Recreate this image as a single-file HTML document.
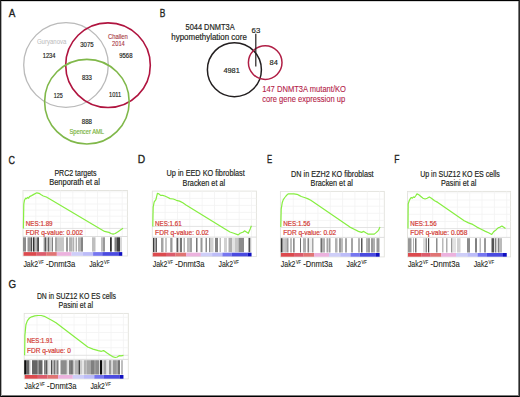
<!DOCTYPE html>
<html><head><meta charset="utf-8"><style>
html,body{margin:0;padding:0;background:#fff;width:520px;height:397px;overflow:hidden;}
svg{display:block;}
text{font-family:"Liberation Sans", sans-serif;}
</style></head><body>
<svg width="520" height="397" viewBox="0 0 520 397">
<rect x="0" y="0" width="520" height="397" fill="#fff"/>
<text x="8.70" y="17.30" font-size="11.60" fill="#231f20" stroke="#231f20" stroke-width="0.35" textLength="6.60" lengthAdjust="spacingAndGlyphs">A</text>
<circle cx="66" cy="65" r="42.3" fill="none" stroke="#bababa" stroke-width="1.3"/>
<circle cx="108" cy="65.2" r="42.3" fill="none" stroke="#b0143f" stroke-width="1.6"/>
<circle cx="86.9" cy="101.7" r="42.3" fill="none" stroke="#80b84a" stroke-width="1.6"/>
<text x="36.90" y="44.10" font-size="6.90" fill="#bdbec0" stroke="#bdbec0" stroke-width="0.05" textLength="29.50" lengthAdjust="spacingAndGlyphs">Guryanova</text>
<text x="42.70" y="58.00" font-size="7.00" fill="#231f20" stroke="#231f20" stroke-width="0.18" textLength="12.80" lengthAdjust="spacingAndGlyphs">1234</text>
<text x="80.20" y="47.00" font-size="7.00" fill="#231f20" stroke="#231f20" stroke-width="0.18" textLength="13.40" lengthAdjust="spacingAndGlyphs">3075</text>
<text x="107.90" y="38.50" font-size="6.70" fill="#a83844" stroke="#a83844" stroke-width="0.12" textLength="20.00" lengthAdjust="spacingAndGlyphs">Challen</text>
<text x="112.00" y="45.80" font-size="6.70" fill="#a83844" stroke="#a83844" stroke-width="0.12" textLength="12.80" lengthAdjust="spacingAndGlyphs">2014</text>
<text x="119.20" y="58.00" font-size="7.00" fill="#231f20" stroke="#231f20" stroke-width="0.18" textLength="13.30" lengthAdjust="spacingAndGlyphs">9568</text>
<text x="81.90" y="80.00" font-size="7.00" fill="#231f20" stroke="#231f20" stroke-width="0.18" textLength="10.00" lengthAdjust="spacingAndGlyphs">833</text>
<text x="53.75" y="97.80" font-size="7.00" fill="#231f20" stroke="#231f20" stroke-width="0.18" textLength="9.00" lengthAdjust="spacingAndGlyphs">125</text>
<text x="109.00" y="97.30" font-size="7.00" fill="#231f20" stroke="#231f20" stroke-width="0.18" textLength="12.30" lengthAdjust="spacingAndGlyphs">1011</text>
<text x="81.75" y="123.50" font-size="7.00" fill="#231f20" stroke="#231f20" stroke-width="0.18" textLength="10.25" lengthAdjust="spacingAndGlyphs">888</text>
<text x="69.40" y="133.80" font-size="6.60" fill="#7ab440" stroke="#7ab440" stroke-width="0.18" textLength="34.60" lengthAdjust="spacingAndGlyphs">Spencer AML</text>
<text x="159.80" y="17.10" font-size="11.60" fill="#231f20" stroke="#231f20" stroke-width="0.35" textLength="5.60" lengthAdjust="spacingAndGlyphs">B</text>
<text x="185.50" y="30.20" font-size="8.20" fill="#231f20" stroke="#231f20" stroke-width="0.18" textLength="49.10" lengthAdjust="spacingAndGlyphs">5044 DNMT3A</text>
<text x="171.30" y="39.70" font-size="8.20" fill="#231f20" stroke="#231f20" stroke-width="0.18" textLength="75.50" lengthAdjust="spacingAndGlyphs">hypomethylation core</text>
<circle cx="234.4" cy="69.7" r="27.0" fill="none" stroke="#231f20" stroke-width="1.5"/>
<circle cx="265.2" cy="62.6" r="16.8" fill="none" stroke="#b01e45" stroke-width="1.5"/>
<line x1="255.8" y1="33.8" x2="255.8" y2="66.4" stroke="#231f20" stroke-width="1.2"/>
<text x="251.60" y="32.80" font-size="8.10" fill="#231f20" stroke="#231f20" stroke-width="0.18" textLength="8.70" lengthAdjust="spacingAndGlyphs">63</text>
<text x="223.40" y="73.40" font-size="8.10" fill="#231f20" stroke="#231f20" stroke-width="0.18" textLength="16.40" lengthAdjust="spacingAndGlyphs">4981</text>
<text x="269.50" y="65.20" font-size="8.10" fill="#231f20" stroke="#231f20" stroke-width="0.18" textLength="8.30" lengthAdjust="spacingAndGlyphs">84</text>
<text x="262.20" y="91.70" font-size="8.20" fill="#b41c48" stroke="#b41c48" stroke-width="0.1" textLength="83.80" lengthAdjust="spacingAndGlyphs">147 DNMT3A mutant/KO</text>
<text x="262.20" y="101.90" font-size="8.20" fill="#b41c48" stroke="#b41c48" stroke-width="0.1" textLength="83.00" lengthAdjust="spacingAndGlyphs">core gene expression up</text>
<rect x="23" y="190.5" width="104.40" height="65.50" fill="#fff" stroke="#e2e2dc" stroke-width="0.9"/>
<line x1="35.84" y1="190.5" x2="35.84" y2="236.5" stroke="#f2f2f2" stroke-width="0.8"/>
<line x1="48.17" y1="190.5" x2="48.17" y2="236.5" stroke="#f2f2f2" stroke-width="0.8"/>
<line x1="60.51" y1="190.5" x2="60.51" y2="236.5" stroke="#f2f2f2" stroke-width="0.8"/>
<line x1="72.85" y1="190.5" x2="72.85" y2="236.5" stroke="#f2f2f2" stroke-width="0.8"/>
<line x1="85.19" y1="190.5" x2="85.19" y2="236.5" stroke="#f2f2f2" stroke-width="0.8"/>
<line x1="97.53" y1="190.5" x2="97.53" y2="236.5" stroke="#f2f2f2" stroke-width="0.8"/>
<line x1="109.86" y1="190.5" x2="109.86" y2="236.5" stroke="#f2f2f2" stroke-width="0.8"/>
<line x1="122.20" y1="190.5" x2="122.20" y2="236.5" stroke="#f2f2f2" stroke-width="0.8"/>
<line x1="23" y1="222.30" x2="127.4" y2="222.30" stroke="#f2f2f2" stroke-width="0.8"/>
<line x1="23" y1="216.20" x2="127.4" y2="216.20" stroke="#f2f2f2" stroke-width="0.8"/>
<line x1="23" y1="210.10" x2="127.4" y2="210.10" stroke="#f2f2f2" stroke-width="0.8"/>
<line x1="23" y1="204.00" x2="127.4" y2="204.00" stroke="#f2f2f2" stroke-width="0.8"/>
<line x1="23" y1="197.90" x2="127.4" y2="197.90" stroke="#f2f2f2" stroke-width="0.8"/>
<line x1="23" y1="191.80" x2="127.4" y2="191.80" stroke="#f2f2f2" stroke-width="0.8"/>
<line x1="23" y1="228.4" x2="127.4" y2="228.4" stroke="#dcdcdc" stroke-width="0.8"/>
<line x1="23" y1="236.5" x2="127.4" y2="236.5" stroke="#d6d6d6" stroke-width="0.8"/>
<rect x="23" y="237.3" width="3.00" height="14.3" fill="rgb(140,140,140)"/>
<rect x="27.5" y="237.3" width="3.50" height="14.3" fill="rgb(153,153,153)"/>
<rect x="31" y="237.3" width="1.00" height="14.3" fill="rgb(77,77,77)"/>
<rect x="32" y="237.3" width="0.80" height="14.3" fill="rgb(217,217,217)"/>
<rect x="33" y="237.3" width="1.50" height="14.3" fill="rgb(51,51,51)"/>
<rect x="34.5" y="237.3" width="1.00" height="14.3" fill="rgb(128,128,128)"/>
<rect x="36.5" y="237.3" width="1.50" height="14.3" fill="rgb(102,102,102)"/>
<rect x="38" y="237.3" width="1.00" height="14.3" fill="rgb(77,77,77)"/>
<rect x="43.5" y="237.3" width="1.00" height="14.3" fill="rgb(178,178,178)"/>
<rect x="44.5" y="237.3" width="1.50" height="14.3" fill="rgb(89,89,89)"/>
<rect x="46" y="237.3" width="2.00" height="14.3" fill="rgb(191,191,191)"/>
<rect x="48" y="237.3" width="1.50" height="14.3" fill="rgb(102,102,102)"/>
<rect x="49.5" y="237.3" width="2.50" height="14.3" fill="rgb(204,204,204)"/>
<rect x="52" y="237.3" width="1.00" height="14.3" fill="rgb(128,128,128)"/>
<rect x="55" y="237.3" width="2.00" height="14.3" fill="rgb(166,166,166)"/>
<rect x="57" y="237.3" width="7.00" height="14.3" fill="rgb(199,199,199)"/>
<rect x="66" y="237.3" width="2.00" height="14.3" fill="rgb(153,153,153)"/>
<rect x="69" y="237.3" width="3.00" height="14.3" fill="rgb(178,178,178)"/>
<rect x="72" y="237.3" width="1.00" height="14.3" fill="rgb(204,204,204)"/>
<rect x="73" y="237.3" width="0.80" height="14.3" fill="rgb(140,140,140)"/>
<rect x="73.8" y="237.3" width="2.00" height="14.3" fill="rgb(235,235,235)"/>
<rect x="75.8" y="237.3" width="1.00" height="14.3" fill="rgb(153,153,153)"/>
<rect x="78" y="237.3" width="3.00" height="14.3" fill="rgb(178,178,178)"/>
<rect x="81" y="237.3" width="2.00" height="14.3" fill="rgb(133,133,133)"/>
<rect x="92" y="237.3" width="3.50" height="14.3" fill="rgb(191,191,191)"/>
<rect x="101" y="237.3" width="2.00" height="14.3" fill="rgb(191,191,191)"/>
<rect x="103" y="237.3" width="2.00" height="14.3" fill="rgb(153,153,153)"/>
<rect x="110" y="237.3" width="1.80" height="14.3" fill="rgb(51,51,51)"/>
<rect x="114.5" y="237.3" width="2.50" height="14.3" fill="rgb(128,128,128)"/>
<rect x="117" y="237.3" width="3.00" height="14.3" fill="rgb(64,64,64)"/>
<rect x="120" y="237.3" width="2.00" height="14.3" fill="rgb(217,217,217)"/>
<rect x="23.50" y="252.1" width="13.21" height="3.7" fill="#dc4a4e"/>
<rect x="36.66" y="252.1" width="9.62" height="3.7" fill="#dc5c6c"/>
<rect x="46.23" y="252.1" width="10.62" height="3.7" fill="#e07474"/>
<rect x="56.80" y="252.1" width="14.81" height="3.7" fill="#ecb2de"/>
<rect x="71.55" y="252.1" width="11.32" height="3.7" fill="#cecef8"/>
<rect x="82.82" y="252.1" width="10.32" height="3.7" fill="#bcbcf8"/>
<rect x="93.09" y="252.1" width="9.22" height="3.7" fill="#7676f0"/>
<rect x="102.26" y="252.1" width="16.20" height="3.7" fill="#4a4ae0"/>
<rect x="118.41" y="252.1" width="3.84" height="3.7" fill="#1010c0"/>
<polyline points="23.4,228.4 23.6,215.0 23.8,204.0 24.5,200.2 25.6,198.2 26.6,198.6 27.6,197.4 28.6,198.2 29.5,196.6 31.6,195.6 33.8,194.4 36.9,192.8 39.0,193.3 41.2,194.8 43.3,196.0 46.4,197.0 104.6,231.4 108.9,232.4 111.0,233.5 113.1,234.1 115.2,233.5 118.4,231.4 121.5,229.3 123.0,228.2" fill="none" stroke="#86ee40" stroke-width="1.2" stroke-linejoin="round"/>
<text x="25.80" y="225.50" font-size="6.90" fill="#d23a33" stroke="#d23a33" stroke-width="0.2" textLength="26.80" lengthAdjust="spacingAndGlyphs">NES:1.89</text>
<text x="25.80" y="234.50" font-size="6.90" fill="#d23a33" stroke="#d23a33" stroke-width="0.2" textLength="57.20" lengthAdjust="spacingAndGlyphs">FDR q-value: 0.002</text>
<text x="54.40" y="175.60" font-size="8.70" fill="#231f20" stroke="#231f20" stroke-width="0.18" textLength="42.10" lengthAdjust="spacingAndGlyphs">PRC2 targets</text>
<text x="49.20" y="185.30" font-size="8.70" fill="#231f20" stroke="#231f20" stroke-width="0.18" textLength="50.70" lengthAdjust="spacingAndGlyphs">Benporath et al</text>
<text x="23.40" y="266.80" font-size="8.40" fill="#231f20" stroke="#231f20" stroke-width="0.1" textLength="14.70" lengthAdjust="spacingAndGlyphs">Jak2</text>
<text x="38.50" y="263.50" font-size="4.80" fill="#231f20" stroke="#231f20" stroke-width="0.1" textLength="5.10" lengthAdjust="spacingAndGlyphs">VF</text>
<text x="45.90" y="266.80" font-size="8.40" fill="#231f20" stroke="#231f20" stroke-width="0.1" textLength="29.30" lengthAdjust="spacingAndGlyphs">-Dnmt3a</text>
<text x="89.20" y="266.80" font-size="8.40" fill="#231f20" stroke="#231f20" stroke-width="0.1" textLength="14.50" lengthAdjust="spacingAndGlyphs">Jak2</text>
<text x="104.10" y="263.50" font-size="4.80" fill="#231f20" stroke="#231f20" stroke-width="0.1" textLength="5.50" lengthAdjust="spacingAndGlyphs">VF</text>
<text x="8.50" y="163.50" font-size="11.60" fill="#231f20" stroke="#231f20" stroke-width="0.35" textLength="6.40" lengthAdjust="spacingAndGlyphs">C</text>
<rect x="152.3" y="191.1" width="104.10" height="65.50" fill="#fff" stroke="#e2e2dc" stroke-width="0.9"/>
<line x1="165.14" y1="191.1" x2="165.14" y2="237.1" stroke="#f2f2f2" stroke-width="0.8"/>
<line x1="177.48" y1="191.1" x2="177.48" y2="237.1" stroke="#f2f2f2" stroke-width="0.8"/>
<line x1="189.81" y1="191.1" x2="189.81" y2="237.1" stroke="#f2f2f2" stroke-width="0.8"/>
<line x1="202.15" y1="191.1" x2="202.15" y2="237.1" stroke="#f2f2f2" stroke-width="0.8"/>
<line x1="214.49" y1="191.1" x2="214.49" y2="237.1" stroke="#f2f2f2" stroke-width="0.8"/>
<line x1="226.83" y1="191.1" x2="226.83" y2="237.1" stroke="#f2f2f2" stroke-width="0.8"/>
<line x1="239.16" y1="191.1" x2="239.16" y2="237.1" stroke="#f2f2f2" stroke-width="0.8"/>
<line x1="251.50" y1="191.1" x2="251.50" y2="237.1" stroke="#f2f2f2" stroke-width="0.8"/>
<line x1="152.3" y1="219.40" x2="256.4" y2="219.40" stroke="#f2f2f2" stroke-width="0.8"/>
<line x1="152.3" y1="212.40" x2="256.4" y2="212.40" stroke="#f2f2f2" stroke-width="0.8"/>
<line x1="152.3" y1="205.40" x2="256.4" y2="205.40" stroke="#f2f2f2" stroke-width="0.8"/>
<line x1="152.3" y1="198.40" x2="256.4" y2="198.40" stroke="#f2f2f2" stroke-width="0.8"/>
<line x1="152.3" y1="226.4" x2="256.4" y2="226.4" stroke="#dcdcdc" stroke-width="0.8"/>
<line x1="152.3" y1="237.1" x2="256.4" y2="237.1" stroke="#d6d6d6" stroke-width="0.8"/>
<rect x="153" y="237.89999999999998" width="1.50" height="14.3" fill="rgb(60,60,60)"/>
<rect x="154.5" y="237.89999999999998" width="1.30" height="14.3" fill="rgb(163,163,163)"/>
<rect x="155.8" y="237.89999999999998" width="1.20" height="14.3" fill="rgb(94,94,94)"/>
<rect x="161" y="237.89999999999998" width="2.50" height="14.3" fill="rgb(163,163,163)"/>
<rect x="165.5" y="237.89999999999998" width="1.00" height="14.3" fill="rgb(140,140,140)"/>
<rect x="170" y="237.89999999999998" width="1.00" height="14.3" fill="rgb(175,175,175)"/>
<rect x="171" y="237.89999999999998" width="1.50" height="14.3" fill="rgb(152,152,152)"/>
<rect x="176.5" y="237.89999999999998" width="2.00" height="14.3" fill="rgb(94,94,94)"/>
<rect x="178.5" y="237.89999999999998" width="1.50" height="14.3" fill="rgb(232,232,232)"/>
<rect x="180" y="237.89999999999998" width="2.00" height="14.3" fill="rgb(117,117,117)"/>
<rect x="183.5" y="237.89999999999998" width="1.50" height="14.3" fill="rgb(175,175,175)"/>
<rect x="187" y="237.89999999999998" width="2.50" height="14.3" fill="rgb(186,186,186)"/>
<rect x="189.5" y="237.89999999999998" width="2.50" height="14.3" fill="rgb(163,163,163)"/>
<rect x="196" y="237.89999999999998" width="1.50" height="14.3" fill="rgb(117,117,117)"/>
<rect x="200.5" y="237.89999999999998" width="2.00" height="14.3" fill="rgb(152,152,152)"/>
<rect x="205.5" y="237.89999999999998" width="1.50" height="14.3" fill="rgb(140,140,140)"/>
<rect x="209" y="237.89999999999998" width="1.50" height="14.3" fill="rgb(140,140,140)"/>
<rect x="210.5" y="237.89999999999998" width="3.00" height="14.3" fill="rgb(209,209,209)"/>
<rect x="215" y="237.89999999999998" width="3.00" height="14.3" fill="rgb(129,129,129)"/>
<rect x="219.5" y="237.89999999999998" width="1.50" height="14.3" fill="rgb(186,186,186)"/>
<rect x="224" y="237.89999999999998" width="3.00" height="14.3" fill="rgb(209,209,209)"/>
<rect x="228.5" y="237.89999999999998" width="3.50" height="14.3" fill="rgb(175,175,175)"/>
<rect x="232" y="237.89999999999998" width="3.00" height="14.3" fill="rgb(227,227,227)"/>
<rect x="235" y="237.89999999999998" width="3.50" height="14.3" fill="rgb(198,198,198)"/>
<rect x="238.5" y="237.89999999999998" width="5.50" height="14.3" fill="rgb(140,140,140)"/>
<rect x="248.5" y="237.89999999999998" width="2.00" height="14.3" fill="rgb(83,83,83)"/>
<rect x="250.5" y="237.89999999999998" width="1.00" height="14.3" fill="rgb(221,221,221)"/>
<rect x="152.80" y="252.7" width="13.21" height="3.7" fill="#dc4a4e"/>
<rect x="165.96" y="252.7" width="9.62" height="3.7" fill="#dc5c6c"/>
<rect x="175.53" y="252.7" width="10.62" height="3.7" fill="#e07474"/>
<rect x="186.10" y="252.7" width="14.81" height="3.7" fill="#ecb2de"/>
<rect x="200.85" y="252.7" width="11.32" height="3.7" fill="#cecef8"/>
<rect x="212.12" y="252.7" width="10.32" height="3.7" fill="#bcbcf8"/>
<rect x="222.39" y="252.7" width="9.22" height="3.7" fill="#7676f0"/>
<rect x="231.56" y="252.7" width="16.20" height="3.7" fill="#4a4ae0"/>
<rect x="247.71" y="252.7" width="3.84" height="3.7" fill="#1010c0"/>
<polyline points="152.8,226.4 153.0,215.0 153.2,207.0 154.2,201.8 155.9,199.6 157.4,193.3 158.9,193.9 160.6,195.4 162.7,195.4 164.8,196.0 168.0,197.5 170.1,198.6 173.3,199.0 176.4,200.3 179.6,201.1 182.8,202.8 186.0,204.9 225.0,228.9 230.0,232.0 233.8,233.3 238.2,234.9 240.1,233.3 243.3,232.0 244.5,230.8 246.4,232.0 248.3,233.3 250.2,228.9 251.4,225.7" fill="none" stroke="#86ee40" stroke-width="1.2" stroke-linejoin="round"/>
<text x="155.10" y="225.70" font-size="6.90" fill="#d23a33" stroke="#d23a33" stroke-width="0.2" textLength="26.60" lengthAdjust="spacingAndGlyphs">NES:1.61</text>
<text x="155.10" y="234.90" font-size="6.90" fill="#d23a33" stroke="#d23a33" stroke-width="0.2" textLength="53.70" lengthAdjust="spacingAndGlyphs">FDR q-value: 0.02</text>
<text x="166.60" y="176.20" font-size="8.70" fill="#231f20" stroke="#231f20" stroke-width="0.18" textLength="78.20" lengthAdjust="spacingAndGlyphs">Up in EED KO fibroblast</text>
<text x="182.50" y="185.90" font-size="8.70" fill="#231f20" stroke="#231f20" stroke-width="0.18" textLength="42.70" lengthAdjust="spacingAndGlyphs">Bracken et al</text>
<text x="152.70" y="266.80" font-size="8.40" fill="#231f20" stroke="#231f20" stroke-width="0.1" textLength="14.70" lengthAdjust="spacingAndGlyphs">Jak2</text>
<text x="167.80" y="263.50" font-size="4.80" fill="#231f20" stroke="#231f20" stroke-width="0.1" textLength="5.10" lengthAdjust="spacingAndGlyphs">VF</text>
<text x="175.20" y="266.80" font-size="8.40" fill="#231f20" stroke="#231f20" stroke-width="0.1" textLength="29.30" lengthAdjust="spacingAndGlyphs">-Dnmt3a</text>
<text x="218.50" y="266.80" font-size="8.40" fill="#231f20" stroke="#231f20" stroke-width="0.1" textLength="14.50" lengthAdjust="spacingAndGlyphs">Jak2</text>
<text x="233.40" y="263.50" font-size="4.80" fill="#231f20" stroke="#231f20" stroke-width="0.1" textLength="5.50" lengthAdjust="spacingAndGlyphs">VF</text>
<text x="137.70" y="163.30" font-size="11.60" fill="#231f20" stroke="#231f20" stroke-width="0.35" textLength="7.40" lengthAdjust="spacingAndGlyphs">D</text>
<rect x="280.4" y="191.4" width="103.90" height="65.50" fill="#fff" stroke="#e2e2dc" stroke-width="0.9"/>
<line x1="293.24" y1="191.4" x2="293.24" y2="237.4" stroke="#f2f2f2" stroke-width="0.8"/>
<line x1="305.57" y1="191.4" x2="305.57" y2="237.4" stroke="#f2f2f2" stroke-width="0.8"/>
<line x1="317.91" y1="191.4" x2="317.91" y2="237.4" stroke="#f2f2f2" stroke-width="0.8"/>
<line x1="330.25" y1="191.4" x2="330.25" y2="237.4" stroke="#f2f2f2" stroke-width="0.8"/>
<line x1="342.59" y1="191.4" x2="342.59" y2="237.4" stroke="#f2f2f2" stroke-width="0.8"/>
<line x1="354.92" y1="191.4" x2="354.92" y2="237.4" stroke="#f2f2f2" stroke-width="0.8"/>
<line x1="367.26" y1="191.4" x2="367.26" y2="237.4" stroke="#f2f2f2" stroke-width="0.8"/>
<line x1="379.60" y1="191.4" x2="379.60" y2="237.4" stroke="#f2f2f2" stroke-width="0.8"/>
<line x1="280.4" y1="220.40" x2="384.3" y2="220.40" stroke="#f2f2f2" stroke-width="0.8"/>
<line x1="280.4" y1="213.30" x2="384.3" y2="213.30" stroke="#f2f2f2" stroke-width="0.8"/>
<line x1="280.4" y1="206.20" x2="384.3" y2="206.20" stroke="#f2f2f2" stroke-width="0.8"/>
<line x1="280.4" y1="199.10" x2="384.3" y2="199.10" stroke="#f2f2f2" stroke-width="0.8"/>
<line x1="280.4" y1="227.5" x2="384.3" y2="227.5" stroke="#dcdcdc" stroke-width="0.8"/>
<line x1="280.4" y1="237.4" x2="384.3" y2="237.4" stroke="#d6d6d6" stroke-width="0.8"/>
<rect x="280.8" y="238.2" width="1.20" height="14.3" fill="rgb(53,53,53)"/>
<rect x="282" y="238.2" width="1.50" height="14.3" fill="rgb(143,143,143)"/>
<rect x="284.5" y="238.2" width="1.00" height="14.3" fill="rgb(143,143,143)"/>
<rect x="285.5" y="238.2" width="1.50" height="14.3" fill="rgb(188,188,188)"/>
<rect x="287" y="238.2" width="1.50" height="14.3" fill="rgb(154,154,154)"/>
<rect x="290" y="238.2" width="2.00" height="14.3" fill="rgb(188,188,188)"/>
<rect x="293" y="238.2" width="1.00" height="14.3" fill="rgb(143,143,143)"/>
<rect x="294" y="238.2" width="1.00" height="14.3" fill="rgb(176,176,176)"/>
<rect x="300" y="238.2" width="1.00" height="14.3" fill="rgb(109,109,109)"/>
<rect x="303" y="238.2" width="3.00" height="14.3" fill="rgb(176,176,176)"/>
<rect x="307.5" y="238.2" width="1.50" height="14.3" fill="rgb(132,132,132)"/>
<rect x="309" y="238.2" width="3.00" height="14.3" fill="rgb(237,237,237)"/>
<rect x="312" y="238.2" width="1.50" height="14.3" fill="rgb(165,165,165)"/>
<rect x="320.5" y="238.2" width="1.50" height="14.3" fill="rgb(109,109,109)"/>
<rect x="322" y="238.2" width="3.00" height="14.3" fill="rgb(176,176,176)"/>
<rect x="326.5" y="238.2" width="1.50" height="14.3" fill="rgb(165,165,165)"/>
<rect x="328" y="238.2" width="1.00" height="14.3" fill="rgb(210,210,210)"/>
<rect x="329" y="238.2" width="1.50" height="14.3" fill="rgb(154,154,154)"/>
<rect x="335" y="238.2" width="2.50" height="14.3" fill="rgb(176,176,176)"/>
<rect x="339" y="238.2" width="2.00" height="14.3" fill="rgb(154,154,154)"/>
<rect x="341" y="238.2" width="2.00" height="14.3" fill="rgb(188,188,188)"/>
<rect x="345" y="238.2" width="2.00" height="14.3" fill="rgb(165,165,165)"/>
<rect x="351" y="238.2" width="2.00" height="14.3" fill="rgb(165,165,165)"/>
<rect x="358" y="238.2" width="2.00" height="14.3" fill="rgb(176,176,176)"/>
<rect x="361" y="238.2" width="1.50" height="14.3" fill="rgb(87,87,87)"/>
<rect x="366" y="238.2" width="2.00" height="14.3" fill="rgb(176,176,176)"/>
<rect x="368" y="238.2" width="2.00" height="14.3" fill="rgb(154,154,154)"/>
<rect x="371" y="238.2" width="2.00" height="14.3" fill="rgb(154,154,154)"/>
<rect x="373.5" y="238.2" width="1.00" height="14.3" fill="rgb(98,98,98)"/>
<rect x="376.5" y="238.2" width="3.00" height="14.3" fill="rgb(154,154,154)"/>
<rect x="280.90" y="253.0" width="13.21" height="3.7" fill="#dc4a4e"/>
<rect x="294.06" y="253.0" width="9.62" height="3.7" fill="#dc5c6c"/>
<rect x="303.63" y="253.0" width="10.62" height="3.7" fill="#e07474"/>
<rect x="314.20" y="253.0" width="14.81" height="3.7" fill="#ecb2de"/>
<rect x="328.95" y="253.0" width="11.32" height="3.7" fill="#cecef8"/>
<rect x="340.22" y="253.0" width="10.32" height="3.7" fill="#bcbcf8"/>
<rect x="350.49" y="253.0" width="9.22" height="3.7" fill="#7676f0"/>
<rect x="359.66" y="253.0" width="16.20" height="3.7" fill="#4a4ae0"/>
<rect x="375.81" y="253.0" width="3.84" height="3.7" fill="#1010c0"/>
<polyline points="280.8,227.1 281.0,218.0 281.2,209.2 282.2,202.8 283.3,199.6 284.8,197.5 286.0,196.0 287.5,194.3 288.6,193.9 290.7,193.9 293.9,193.9 297.0,194.3 299.2,195.4 301.3,196.5 304.4,197.5 307.6,198.6 310.8,200.3 349.9,227.1 354.2,229.3 358.4,231.4 361.6,232.4 363.7,231.4 365.8,232.8 367.9,234.1 371.1,234.1 374.3,234.1 376.4,232.4 378.5,230.3 380.0,227.1" fill="none" stroke="#86ee40" stroke-width="1.2" stroke-linejoin="round"/>
<text x="283.20" y="225.70" font-size="6.90" fill="#d23a33" stroke="#d23a33" stroke-width="0.2" textLength="27.00" lengthAdjust="spacingAndGlyphs">NES:1.56</text>
<text x="283.20" y="234.90" font-size="6.90" fill="#d23a33" stroke="#d23a33" stroke-width="0.2" textLength="53.00" lengthAdjust="spacingAndGlyphs">FDR q-value: 0.02</text>
<text x="291.10" y="176.50" font-size="8.70" fill="#231f20" stroke="#231f20" stroke-width="0.18" textLength="82.50" lengthAdjust="spacingAndGlyphs">DN in EZH2 KO fibroblast</text>
<text x="310.60" y="186.20" font-size="8.70" fill="#231f20" stroke="#231f20" stroke-width="0.18" textLength="42.20" lengthAdjust="spacingAndGlyphs">Bracken et al</text>
<text x="280.80" y="266.80" font-size="8.40" fill="#231f20" stroke="#231f20" stroke-width="0.1" textLength="14.70" lengthAdjust="spacingAndGlyphs">Jak2</text>
<text x="295.90" y="263.50" font-size="4.80" fill="#231f20" stroke="#231f20" stroke-width="0.1" textLength="5.10" lengthAdjust="spacingAndGlyphs">VF</text>
<text x="303.30" y="266.80" font-size="8.40" fill="#231f20" stroke="#231f20" stroke-width="0.1" textLength="29.30" lengthAdjust="spacingAndGlyphs">-Dnmt3a</text>
<text x="346.60" y="266.80" font-size="8.40" fill="#231f20" stroke="#231f20" stroke-width="0.1" textLength="14.50" lengthAdjust="spacingAndGlyphs">Jak2</text>
<text x="361.50" y="263.50" font-size="4.80" fill="#231f20" stroke="#231f20" stroke-width="0.1" textLength="5.50" lengthAdjust="spacingAndGlyphs">VF</text>
<text x="266.90" y="163.30" font-size="11.60" fill="#231f20" stroke="#231f20" stroke-width="0.35" textLength="5.20" lengthAdjust="spacingAndGlyphs">E</text>
<rect x="407.5" y="191.4" width="103.10" height="65.50" fill="#fff" stroke="#e2e2dc" stroke-width="0.9"/>
<line x1="420.34" y1="191.4" x2="420.34" y2="237.4" stroke="#f2f2f2" stroke-width="0.8"/>
<line x1="432.68" y1="191.4" x2="432.68" y2="237.4" stroke="#f2f2f2" stroke-width="0.8"/>
<line x1="445.01" y1="191.4" x2="445.01" y2="237.4" stroke="#f2f2f2" stroke-width="0.8"/>
<line x1="457.35" y1="191.4" x2="457.35" y2="237.4" stroke="#f2f2f2" stroke-width="0.8"/>
<line x1="469.69" y1="191.4" x2="469.69" y2="237.4" stroke="#f2f2f2" stroke-width="0.8"/>
<line x1="482.02" y1="191.4" x2="482.02" y2="237.4" stroke="#f2f2f2" stroke-width="0.8"/>
<line x1="494.36" y1="191.4" x2="494.36" y2="237.4" stroke="#f2f2f2" stroke-width="0.8"/>
<line x1="506.70" y1="191.4" x2="506.70" y2="237.4" stroke="#f2f2f2" stroke-width="0.8"/>
<line x1="407.5" y1="221.45" x2="510.6" y2="221.45" stroke="#f2f2f2" stroke-width="0.8"/>
<line x1="407.5" y1="214.30" x2="510.6" y2="214.30" stroke="#f2f2f2" stroke-width="0.8"/>
<line x1="407.5" y1="207.15" x2="510.6" y2="207.15" stroke="#f2f2f2" stroke-width="0.8"/>
<line x1="407.5" y1="200.00" x2="510.6" y2="200.00" stroke="#f2f2f2" stroke-width="0.8"/>
<line x1="407.5" y1="192.85" x2="510.6" y2="192.85" stroke="#f2f2f2" stroke-width="0.8"/>
<line x1="407.5" y1="228.6" x2="510.6" y2="228.6" stroke="#dcdcdc" stroke-width="0.8"/>
<line x1="407.5" y1="237.4" x2="510.6" y2="237.4" stroke="#d6d6d6" stroke-width="0.8"/>
<rect x="408" y="238.2" width="3.50" height="14.3" fill="rgb(152,152,152)"/>
<rect x="413" y="238.2" width="1.00" height="14.3" fill="rgb(175,175,175)"/>
<rect x="415" y="238.2" width="1.50" height="14.3" fill="rgb(117,117,117)"/>
<rect x="423.5" y="238.2" width="1.00" height="14.3" fill="rgb(186,186,186)"/>
<rect x="425.5" y="238.2" width="1.50" height="14.3" fill="rgb(140,140,140)"/>
<rect x="428" y="238.2" width="1.20" height="14.3" fill="rgb(71,71,71)"/>
<rect x="436" y="238.2" width="1.50" height="14.3" fill="rgb(140,140,140)"/>
<rect x="442" y="238.2" width="1.50" height="14.3" fill="rgb(186,186,186)"/>
<rect x="446" y="238.2" width="1.50" height="14.3" fill="rgb(175,175,175)"/>
<rect x="451" y="238.2" width="1.50" height="14.3" fill="rgb(152,152,152)"/>
<rect x="452.5" y="238.2" width="3.50" height="14.3" fill="rgb(227,227,227)"/>
<rect x="457" y="238.2" width="3.50" height="14.3" fill="rgb(209,209,209)"/>
<rect x="467" y="238.2" width="3.00" height="14.3" fill="rgb(140,140,140)"/>
<rect x="475" y="238.2" width="2.00" height="14.3" fill="rgb(129,129,129)"/>
<rect x="479.5" y="238.2" width="1.50" height="14.3" fill="rgb(186,186,186)"/>
<rect x="484" y="238.2" width="2.00" height="14.3" fill="rgb(152,152,152)"/>
<rect x="491.5" y="238.2" width="2.50" height="14.3" fill="rgb(83,83,83)"/>
<rect x="494" y="238.2" width="1.00" height="14.3" fill="rgb(221,221,221)"/>
<rect x="495" y="238.2" width="1.50" height="14.3" fill="rgb(129,129,129)"/>
<rect x="496.5" y="238.2" width="1.50" height="14.3" fill="rgb(221,221,221)"/>
<rect x="498" y="238.2" width="1.50" height="14.3" fill="rgb(129,129,129)"/>
<rect x="499.5" y="238.2" width="2.50" height="14.3" fill="rgb(186,186,186)"/>
<rect x="408.00" y="253.0" width="13.21" height="3.7" fill="#dc4a4e"/>
<rect x="421.16" y="253.0" width="9.62" height="3.7" fill="#dc5c6c"/>
<rect x="430.73" y="253.0" width="10.62" height="3.7" fill="#e07474"/>
<rect x="441.30" y="253.0" width="14.81" height="3.7" fill="#ecb2de"/>
<rect x="456.05" y="253.0" width="11.32" height="3.7" fill="#cecef8"/>
<rect x="467.32" y="253.0" width="10.32" height="3.7" fill="#bcbcf8"/>
<rect x="477.59" y="253.0" width="9.22" height="3.7" fill="#7676f0"/>
<rect x="486.76" y="253.0" width="16.20" height="3.7" fill="#4a4ae0"/>
<rect x="502.91" y="253.0" width="3.84" height="3.7" fill="#1010c0"/>
<polyline points="408.0,228.6 408.1,215.0 408.2,203.9 409.2,200.7 410.3,198.6 411.3,197.5 412.4,198.2 413.5,196.9 414.5,197.5 415.6,196.0 417.0,193.9 418.8,194.8 420.9,196.5 423.0,198.2 425.1,199.0 427.2,198.2 429.3,196.9 431.4,198.2 434.6,200.7 437.8,202.4 464.2,220.8 468.5,222.9 472.7,224.4 476.9,227.1 481.2,229.3 485.4,231.4 488.6,232.8 491.7,234.5 493.9,231.4 496.0,229.9 498.1,227.8 500.2,227.1 501.9,226.1 503.4,227.1 505.5,228.6" fill="none" stroke="#86ee40" stroke-width="1.2" stroke-linejoin="round"/>
<text x="410.30" y="225.70" font-size="6.90" fill="#d23a33" stroke="#d23a33" stroke-width="0.2" textLength="26.40" lengthAdjust="spacingAndGlyphs">NES:1.56</text>
<text x="410.30" y="234.90" font-size="6.90" fill="#d23a33" stroke="#d23a33" stroke-width="0.2" textLength="57.10" lengthAdjust="spacingAndGlyphs">FDR q-value: 0.058</text>
<text x="420.20" y="176.50" font-size="8.70" fill="#231f20" stroke="#231f20" stroke-width="0.18" textLength="79.60" lengthAdjust="spacingAndGlyphs">Up in SUZ12 KO ES cells</text>
<text x="441.00" y="186.20" font-size="8.70" fill="#231f20" stroke="#231f20" stroke-width="0.18" textLength="35.40" lengthAdjust="spacingAndGlyphs">Pasini et al</text>
<text x="407.90" y="266.80" font-size="8.40" fill="#231f20" stroke="#231f20" stroke-width="0.1" textLength="14.70" lengthAdjust="spacingAndGlyphs">Jak2</text>
<text x="423.00" y="263.50" font-size="4.80" fill="#231f20" stroke="#231f20" stroke-width="0.1" textLength="5.10" lengthAdjust="spacingAndGlyphs">VF</text>
<text x="430.40" y="266.80" font-size="8.40" fill="#231f20" stroke="#231f20" stroke-width="0.1" textLength="29.30" lengthAdjust="spacingAndGlyphs">-Dnmt3a</text>
<text x="473.70" y="266.80" font-size="8.40" fill="#231f20" stroke="#231f20" stroke-width="0.1" textLength="14.50" lengthAdjust="spacingAndGlyphs">Jak2</text>
<text x="488.60" y="263.50" font-size="4.80" fill="#231f20" stroke="#231f20" stroke-width="0.1" textLength="5.50" lengthAdjust="spacingAndGlyphs">VF</text>
<text x="394.30" y="163.20" font-size="11.60" fill="#231f20" stroke="#231f20" stroke-width="0.35" textLength="5.20" lengthAdjust="spacingAndGlyphs">F</text>
<rect x="24.2" y="313.4" width="104.10" height="65.50" fill="#fff" stroke="#e2e2dc" stroke-width="0.9"/>
<line x1="37.04" y1="313.4" x2="37.04" y2="359.4" stroke="#f2f2f2" stroke-width="0.8"/>
<line x1="49.38" y1="313.4" x2="49.38" y2="359.4" stroke="#f2f2f2" stroke-width="0.8"/>
<line x1="61.71" y1="313.4" x2="61.71" y2="359.4" stroke="#f2f2f2" stroke-width="0.8"/>
<line x1="74.05" y1="313.4" x2="74.05" y2="359.4" stroke="#f2f2f2" stroke-width="0.8"/>
<line x1="86.39" y1="313.4" x2="86.39" y2="359.4" stroke="#f2f2f2" stroke-width="0.8"/>
<line x1="98.73" y1="313.4" x2="98.73" y2="359.4" stroke="#f2f2f2" stroke-width="0.8"/>
<line x1="111.06" y1="313.4" x2="111.06" y2="359.4" stroke="#f2f2f2" stroke-width="0.8"/>
<line x1="123.40" y1="313.4" x2="123.40" y2="359.4" stroke="#f2f2f2" stroke-width="0.8"/>
<line x1="24.2" y1="347.70" x2="128.3" y2="347.70" stroke="#f2f2f2" stroke-width="0.8"/>
<line x1="24.2" y1="340.10" x2="128.3" y2="340.10" stroke="#f2f2f2" stroke-width="0.8"/>
<line x1="24.2" y1="332.50" x2="128.3" y2="332.50" stroke="#f2f2f2" stroke-width="0.8"/>
<line x1="24.2" y1="324.90" x2="128.3" y2="324.90" stroke="#f2f2f2" stroke-width="0.8"/>
<line x1="24.2" y1="317.30" x2="128.3" y2="317.30" stroke="#f2f2f2" stroke-width="0.8"/>
<line x1="24.2" y1="355.3" x2="128.3" y2="355.3" stroke="#dcdcdc" stroke-width="0.8"/>
<line x1="24.2" y1="359.4" x2="128.3" y2="359.4" stroke="#d6d6d6" stroke-width="0.8"/>
<rect x="24.2" y="360.2" width="1.80" height="14.3" fill="rgb(13,13,13)"/>
<rect x="26" y="360.2" width="3.50" height="14.3" fill="rgb(102,102,102)"/>
<rect x="29.5" y="360.2" width="1.00" height="14.3" fill="rgb(204,204,204)"/>
<rect x="32" y="360.2" width="5.00" height="14.3" fill="rgb(102,102,102)"/>
<rect x="37" y="360.2" width="1.50" height="14.3" fill="rgb(140,140,140)"/>
<rect x="38.5" y="360.2" width="4.00" height="14.3" fill="rgb(102,102,102)"/>
<rect x="44" y="360.2" width="1.50" height="14.3" fill="rgb(128,128,128)"/>
<rect x="45.5" y="360.2" width="2.00" height="14.3" fill="rgb(89,89,89)"/>
<rect x="47.5" y="360.2" width="1.00" height="14.3" fill="rgb(178,178,178)"/>
<rect x="48.5" y="360.2" width="2.50" height="14.3" fill="rgb(230,230,230)"/>
<rect x="51" y="360.2" width="1.00" height="14.3" fill="rgb(77,77,77)"/>
<rect x="52" y="360.2" width="2.00" height="14.3" fill="rgb(178,178,178)"/>
<rect x="54" y="360.2" width="1.50" height="14.3" fill="rgb(115,115,115)"/>
<rect x="55.5" y="360.2" width="1.50" height="14.3" fill="rgb(178,178,178)"/>
<rect x="57" y="360.2" width="1.50" height="14.3" fill="rgb(128,128,128)"/>
<rect x="60.5" y="360.2" width="5.50" height="14.3" fill="rgb(140,140,140)"/>
<rect x="66" y="360.2" width="1.50" height="14.3" fill="rgb(166,166,166)"/>
<rect x="67.5" y="360.2" width="1.50" height="14.3" fill="rgb(230,230,230)"/>
<rect x="69" y="360.2" width="2.00" height="14.3" fill="rgb(128,128,128)"/>
<rect x="71" y="360.2" width="1.00" height="14.3" fill="rgb(115,115,115)"/>
<rect x="72" y="360.2" width="1.50" height="14.3" fill="rgb(128,128,128)"/>
<rect x="74.5" y="360.2" width="4.00" height="14.3" fill="rgb(178,178,178)"/>
<rect x="78.5" y="360.2" width="1.50" height="14.3" fill="rgb(64,64,64)"/>
<rect x="80" y="360.2" width="2.00" height="14.3" fill="rgb(204,204,204)"/>
<rect x="82" y="360.2" width="2.00" height="14.3" fill="rgb(230,230,230)"/>
<rect x="84" y="360.2" width="2.50" height="14.3" fill="rgb(178,178,178)"/>
<rect x="86.5" y="360.2" width="4.50" height="14.3" fill="rgb(166,166,166)"/>
<rect x="91" y="360.2" width="3.00" height="14.3" fill="rgb(128,128,128)"/>
<rect x="94" y="360.2" width="2.00" height="14.3" fill="rgb(153,153,153)"/>
<rect x="96" y="360.2" width="3.00" height="14.3" fill="rgb(140,140,140)"/>
<rect x="99" y="360.2" width="1.00" height="14.3" fill="rgb(217,217,217)"/>
<rect x="100" y="360.2" width="2.00" height="14.3" fill="rgb(13,13,13)"/>
<rect x="102" y="360.2" width="2.00" height="14.3" fill="rgb(204,204,204)"/>
<rect x="104" y="360.2" width="2.50" height="14.3" fill="rgb(166,166,166)"/>
<rect x="106.5" y="360.2" width="2.50" height="14.3" fill="rgb(230,230,230)"/>
<rect x="109" y="360.2" width="2.50" height="14.3" fill="rgb(153,153,153)"/>
<rect x="111.5" y="360.2" width="1.50" height="14.3" fill="rgb(217,217,217)"/>
<rect x="113" y="360.2" width="3.00" height="14.3" fill="rgb(153,153,153)"/>
<rect x="116" y="360.2" width="2.00" height="14.3" fill="rgb(166,166,166)"/>
<rect x="118" y="360.2" width="2.00" height="14.3" fill="rgb(115,115,115)"/>
<rect x="121.5" y="360.2" width="1.00" height="14.3" fill="rgb(128,128,128)"/>
<rect x="24.70" y="375.0" width="13.21" height="3.7" fill="#dc4a4e"/>
<rect x="37.86" y="375.0" width="9.62" height="3.7" fill="#dc5c6c"/>
<rect x="47.43" y="375.0" width="10.62" height="3.7" fill="#e07474"/>
<rect x="58.00" y="375.0" width="14.81" height="3.7" fill="#ecb2de"/>
<rect x="72.75" y="375.0" width="11.32" height="3.7" fill="#cecef8"/>
<rect x="84.02" y="375.0" width="10.32" height="3.7" fill="#bcbcf8"/>
<rect x="94.29" y="375.0" width="9.22" height="3.7" fill="#7676f0"/>
<rect x="103.46" y="375.0" width="16.20" height="3.7" fill="#4a4ae0"/>
<rect x="119.61" y="375.0" width="3.84" height="3.7" fill="#1010c0"/>
<polyline points="24.6,355.3 24.8,345.0 24.9,335.4 25.9,324.8 27.4,320.6 29.5,318.0 31.6,316.8 34.8,315.9 38.0,315.5 41.2,315.5 44.3,316.3 47.5,318.0 51.7,320.2 56.0,322.7 83.5,343.8 87.7,347.0 93.0,349.1 98.3,350.6 101.4,351.3 103.6,350.6 106.7,352.8 110.0,355.0 112.5,356.6 115.3,357.5 117.3,357.0 119.5,355.6 121.0,355.9 123.5,355.3" fill="none" stroke="#86ee40" stroke-width="1.2" stroke-linejoin="round"/>
<text x="27.00" y="343.00" font-size="6.90" fill="#d23a33" stroke="#d23a33" stroke-width="0.2" textLength="25.80" lengthAdjust="spacingAndGlyphs">NES:1.91</text>
<text x="27.00" y="352.90" font-size="6.90" fill="#d23a33" stroke="#d23a33" stroke-width="0.2" textLength="43.80" lengthAdjust="spacingAndGlyphs">FDR q-value: 0</text>
<text x="36.90" y="298.50" font-size="8.70" fill="#231f20" stroke="#231f20" stroke-width="0.18" textLength="79.10" lengthAdjust="spacingAndGlyphs">DN in SUZ12 KO ES cells</text>
<text x="58.50" y="308.20" font-size="8.70" fill="#231f20" stroke="#231f20" stroke-width="0.18" textLength="34.60" lengthAdjust="spacingAndGlyphs">Pasini et al</text>
<text x="24.60" y="389.10" font-size="8.40" fill="#231f20" stroke="#231f20" stroke-width="0.1" textLength="14.70" lengthAdjust="spacingAndGlyphs">Jak2</text>
<text x="39.70" y="385.80" font-size="4.80" fill="#231f20" stroke="#231f20" stroke-width="0.1" textLength="5.10" lengthAdjust="spacingAndGlyphs">VF</text>
<text x="47.10" y="389.10" font-size="8.40" fill="#231f20" stroke="#231f20" stroke-width="0.1" textLength="29.30" lengthAdjust="spacingAndGlyphs">-Dnmt3a</text>
<text x="90.40" y="389.10" font-size="8.40" fill="#231f20" stroke="#231f20" stroke-width="0.1" textLength="14.50" lengthAdjust="spacingAndGlyphs">Jak2</text>
<text x="105.30" y="385.80" font-size="4.80" fill="#231f20" stroke="#231f20" stroke-width="0.1" textLength="5.50" lengthAdjust="spacingAndGlyphs">VF</text>
<text x="8.60" y="287.80" font-size="11.60" fill="#231f20" stroke="#231f20" stroke-width="0.35" textLength="7.60" lengthAdjust="spacingAndGlyphs">G</text>
<rect x="0" y="0" width="520" height="1" fill="#000"/>
<rect x="0" y="1" width="520" height="1" fill="#d8d8d8"/>
<rect x="0" y="396" width="520" height="1" fill="#000"/>
<rect x="0" y="395" width="520" height="1" fill="#7a7a7a"/>
<rect x="0" y="0" width="1" height="397" fill="#1e1e1e"/>
<rect x="1" y="1" width="1" height="395" fill="#b0b0b0"/>
<rect x="519" y="0" width="1" height="397" fill="#2a2a2a"/>
<rect x="518" y="1" width="1" height="395" fill="#7a7a7a"/>
</svg>
</body></html>
